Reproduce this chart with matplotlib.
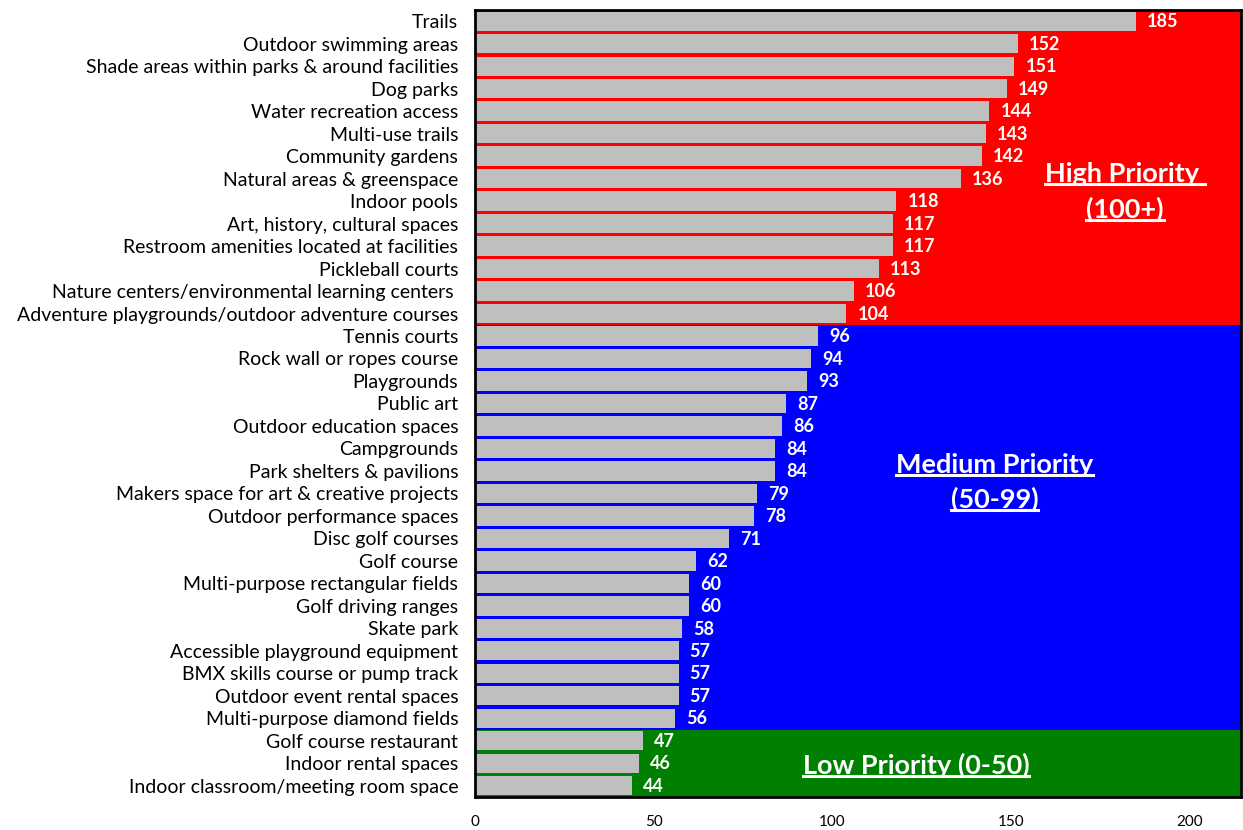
import matplotlib
matplotlib.use("Agg")
import matplotlib.pyplot as plt
from matplotlib.lines import Line2D

categories = [
    "Trails", "Outdoor swimming areas", "Shade areas within parks & around facilities",
    "Dog parks", "Water recreation access", "Multi-use trails", "Community gardens",
    "Natural areas & greenspace", "Indoor pools", "Art, history, cultural spaces",
    "Restroom amenities located at facilities", "Pickleball courts",
    "Nature centers/environmental learning centers ",
    "Adventure playgrounds/outdoor adventure courses", "Tennis courts",
    "Rock wall or ropes course", "Playgrounds", "Public art", "Outdoor education spaces",
    "Campgrounds", "Park shelters & pavilions", "Makers space for art & creative projects",
    "Outdoor performance spaces", "Disc golf courses", "Golf course",
    "Multi-purpose rectangular fields", "Golf driving ranges", "Skate park",
    "Accessible playground equipment", "BMX skills course or pump track",
    "Outdoor event rental spaces", "Multi-purpose diamond fields",
    "Golf course restaurant", "Indoor rental spaces", "Indoor classroom/meeting room space",
]
values = [185, 152, 151, 149, 144, 143, 142, 136, 118, 117, 117, 113, 106, 104,
          96, 94, 93, 87, 86, 84, 84, 79, 78, 71, 62, 60, 60, 58, 57, 57, 57, 56,
          47, 46, 44]
xticks = [0, 50, 100, 150, 200]

plt.rcParams['font.family'] = ['Lato', 'DejaVu Sans']

fig = plt.figure(figsize=(12.43, 8.30), dpi=100)
ax = fig.add_axes([0.3821, 0.0398, 0.6163, 0.9482])

n = len(categories)
ys = list(range(n))
ax.set_xlim(0, 214.5)
ax.set_ylim(n - 0.5, -0.5)

# priority backgrounds
n_high = sum(1 for v in values if v >= 100)
n_med = sum(1 for v in values if 50 <= v < 100)
ax.axhspan(-0.5, n_high - 0.5, color='#FF0000', zorder=0, lw=0)
ax.axhspan(n_high - 0.5, n_high + n_med - 0.5, color='#0000FF', zorder=0, lw=0)
ax.axhspan(n_high + n_med - 0.5, n - 0.5, color='#008000', zorder=0, lw=0)

ax.barh(ys, values, height=0.86, color='#BFBFBF', zorder=2)

for y, v in zip(ys, values):
    ax.annotate(str(v), (v, y), xytext=(8, -0.5), textcoords='offset points',
                ha='left', va='center', color='white', fontweight='bold',
                fontsize=13, zorder=3)

ax.set_yticks(ys)
ax.set_yticklabels(categories, fontsize=14, color='black')
ax.set_xticks(xticks)
ax.set_xticklabels([str(t) for t in xticks], fontsize=11)
ax.tick_params(axis='both', length=0)
ax.tick_params(axis='x', pad=13)
ax.tick_params(axis='y', pad=12)
for s in ax.spines.values():
    s.set_color('black')
    s.set_linewidth(2)
    s.set_zorder(5)

fs = 19.5
texts = []
texts.append(ax.text(182, 6.8, "High Priority ", ha='center', va='center', color='white',
                     fontsize=fs, fontweight='bold', zorder=4))
texts.append(ax.text(182, 8.35, "(100+)", ha='center', va='center', color='white',
                     fontsize=fs, fontweight='bold', zorder=4))
texts.append(ax.text(145.5, 19.75, "Medium Priority", ha='center', va='center', color='white',
                     fontsize=fs, fontweight='bold', zorder=4))
texts.append(ax.text(145.5, 21.25, "(50-99)", ha='center', va='center', color='white',
                     fontsize=fs, fontweight='bold', zorder=4))
texts.append(ax.text(123.5, 33.1, "Low Priority (0-50)", ha='center', va='center', color='white',
                     fontsize=fs, fontweight='bold', zorder=4))

fig.canvas.draw()
r = fig.canvas.get_renderer()
inv = fig.transFigure.inverted()
for t in texts:
    bb = t.get_window_extent(renderer=r)
    x0, y0 = inv.transform((bb.x0, bb.y0 + 2))
    x1, _ = inv.transform((bb.x1, bb.y0 + 2))
    fig.add_artist(Line2D([x0, x1], [y0, y0], color='white', lw=2.2, transform=fig.transFigure, zorder=6))

fig.savefig("out.png", dpi=100)
